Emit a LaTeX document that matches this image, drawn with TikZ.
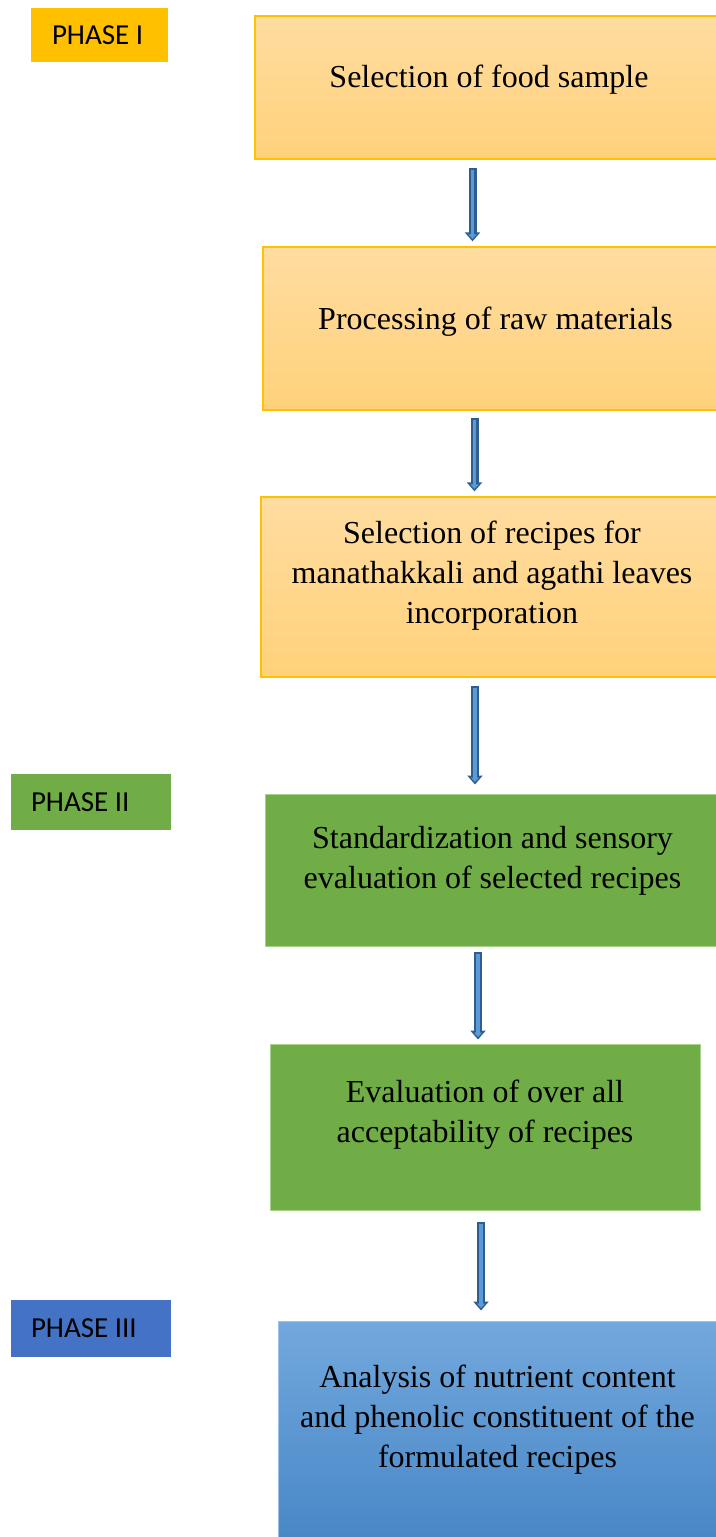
\documentclass[tikz,border=0pt]{standalone}
\usepackage{fontspec}
\setmainfont{Liberation Serif}
\newfontfamily\phasefont{Carlito}
\usetikzlibrary{arrows.meta, calc}

\definecolor{phaseone}{HTML}{FFC000}
\definecolor{phasetwo}{HTML}{70AD47}
\definecolor{phasethree}{HTML}{4472C4}
\definecolor{boxtop}{HTML}{FFDCA0}
\definecolor{boxbot}{HTML}{FFD17A}
\definecolor{greenedge}{HTML}{A9D18E}
\definecolor{bluetop}{HTML}{72A8DD}
\definecolor{bluebot}{HTML}{4786C6}
\definecolor{blueedge}{HTML}{9DC3E6}
\definecolor{arrowdark}{HTML}{2F5D8F}
\definecolor{arrowlight}{HTML}{5B9BD5}

\begin{document}
\begin{tikzpicture}[x=1pt, y=-1pt,
  phasebox/.style={rectangle, inner xsep=21pt, inner ysep=0pt, align=left, font=\phasefont\fontsize{29}{34}\selectfont},
  orangebox/.style={rectangle, draw=phaseone, line width=1.3pt, top color=boxtop, bottom color=boxbot},
  greenbox/.style={rectangle, fill=phasetwo, draw=greenedge, line width=1pt},
  bluebox/.style={rectangle, top color=bluetop, bottom color=bluebot, draw=blueedge, line width=1pt},
  steptext/.style={align=center, inner sep=0pt, font=\fontsize{32}{40}\selectfont},
  flowarrow/.style={draw=arrowdark, line width=8pt, -{Triangle[width=15pt,length=9pt]},
    postaction={draw=arrowlight, line width=3.5pt, -{Triangle[width=8pt,length=4.5pt]}, shorten <=2pt, shorten >=2.5pt}}]
  \useasboundingbox (0,0) rectangle (715,1537);

  % Phase labels
  \node[phasebox, fill=phaseone, text width=95pt, minimum height=54pt] (ph1) at (99.5,35) {PHASE\hspace{6.5pt}I};
  \node[phasebox, fill=phasetwo, text width=120pt, minimum height=56pt, inner xsep=20pt] (ph2) at (91,802) {PHASE\hspace{6.5pt}II};
  \node[phasebox, fill=phasethree, text width=120pt, minimum height=57pt, inner xsep=20pt] (ph3) at (91,1328.5) {PHASE\hspace{6.5pt}III};

  % Step boxes
  \node[orangebox, minimum width=468pt, minimum height=143pt] (b1) at (489,87.5) {};
  \node[orangebox, minimum width=465pt, minimum height=163pt] (b2) at (495.5,328.5) {};
  \node[orangebox, minimum width=462pt, minimum height=180pt] (b3) at (492,587) {};
  \node[greenbox, minimum width=455pt, minimum height=152pt] (b4) at (492.5,870) {};
  \node[greenbox, minimum width=430pt, minimum height=166pt] (b5) at (485,1127) {};
  \node[bluebox, minimum width=439pt, minimum height=224pt] (b6) at (497.5,1433) {};

  % Step texts
  \node[steptext] (t1) at ([yshift=8pt]b1.center) {Selection of food sample};
  \node[steptext] (t2) at ([yshift=7pt]b2.center) {Processing of raw materials};
  \node[steptext] (t3) at ([yshift=11pt]b3.center) {Selection of recipes for\\manathakkali and agathi leaves\\incorporation};
  \node[steptext] (t4) at ([yshift=9pt]b4.center) {Standardization and sensory\\evaluation of selected recipes};
  \node[steptext] (t5) at ([yshift=12pt]b5.center) {Evaluation of over all\\acceptability of recipes};
  \node[steptext] (t6) at ([yshift=13pt]b6.center) {Analysis of nutrient content\\and phenolic constituent of the\\formulated recipes};

  % Arrows
  \coordinate (a1) at (472.5,0);
  \coordinate (a2) at (474.5,0);
  \coordinate (a3) at (475,0);
  \coordinate (a4) at (478,0);
  \coordinate (a5) at (481,0);
  \draw[flowarrow] ($(b1.south -| a1)+(0,8)$) -- ($(b2.north -| a1)-(0,5)$);
  \draw[flowarrow] ($(b2.south -| a2)+(0,7)$) -- ($(b3.north -| a2)-(0,5)$);
  \draw[flowarrow] ($(b3.south -| a3)+(0,8)$) -- ($(b4.north -| a3)-(0,9)$);
  \draw[flowarrow] ($(b4.south -| a4)+(0,5)$) -- ($(b5.north -| a4)-(0,4)$);
  \draw[flowarrow] ($(b5.south -| a5)+(0,11)$) -- ($(b6.north -| a5)-(0,10)$);
\end{tikzpicture}
\end{document}
